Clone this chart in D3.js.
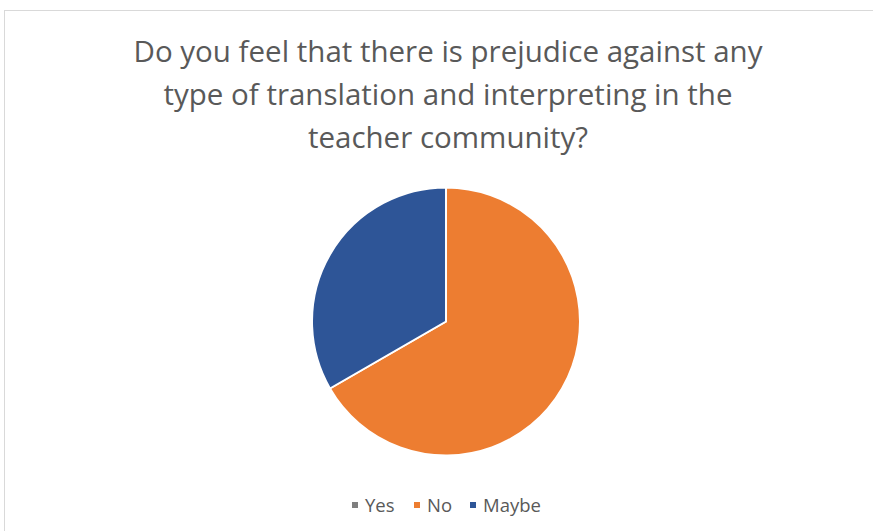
<!DOCTYPE html>
<html>
<head>
<meta charset="utf-8">
<script src="https://cdn.jsdelivr.net/npm/d3@7"></script>
<style>
  body { margin: 0; background: #fff; }
  svg { display: block; }
</style>
</head>
<body>
<svg id="chart" width="873" height="531"></svg>
<script>
// survey answers
const categories = ["Yes", "No", "Maybe"];
const values = [0, 4, 2];
const colors = ["#7f7f7f", "#ED7D31", "#2E5597"];
const titleLines = [
  "Do you feel that there is prejudice against any",
  "type of translation and interpreting in the",
  "teacher community?"
];

const svg = d3.select("#chart");
const W = 873, H = 531;
const textColor = "#595959";

// chart frame
svg.append("rect")
  .attr("x", 4.5).attr("y", 10.5)
  .attr("width", W + 10).attr("height", H + 10)
  .attr("fill", "#fff")
  .attr("stroke", "#d9d9d9");

// title
svg.append("g").selectAll("text")
  .data(titleLines)
  .enter().append("text")
  .attr("x", 448)
  .attr("y", (d, i) => 62 + i * 43)
  .attr("text-anchor", "middle")
  .style("font-family", "'Open Sans', sans-serif")
  .style("font-size", "29.5px")
  .style("fill", textColor)
  .text(d => d);

// pie
const data = categories.map((c, i) => ({ name: c, value: values[i], color: colors[i] }));
const pie = d3.pie().sort(null).value(d => d.value);
const arc = d3.arc().innerRadius(0).outerRadius(134);

svg.append("g")
  .attr("transform", "translate(446,321.5)")
  .selectAll("path")
  .data(pie(data))
  .enter().append("path")
  .attr("d", arc)
  .attr("fill", d => d.data.color)
  .attr("stroke", "#fff")
  .attr("stroke-width", 2);

// legend
const legendX = [365, 427, 483];
const legend = svg.append("g").selectAll("g")
  .data(data)
  .enter().append("g")
  .attr("transform", (d, i) => `translate(${legendX[i]},505)`);

legend.append("rect")
  .attr("x", -13).attr("y", -3)
  .attr("width", 6).attr("height", 6)
  .attr("fill", d => d.color);

legend.append("text")
  .attr("x", 0).attr("y", 6.5)
  .style("font-family", "'Open Sans', sans-serif")
  .style("font-size", "18.5px")
  .style("fill", textColor)
  .text(d => d.name);
</script>
</body>
</html>
